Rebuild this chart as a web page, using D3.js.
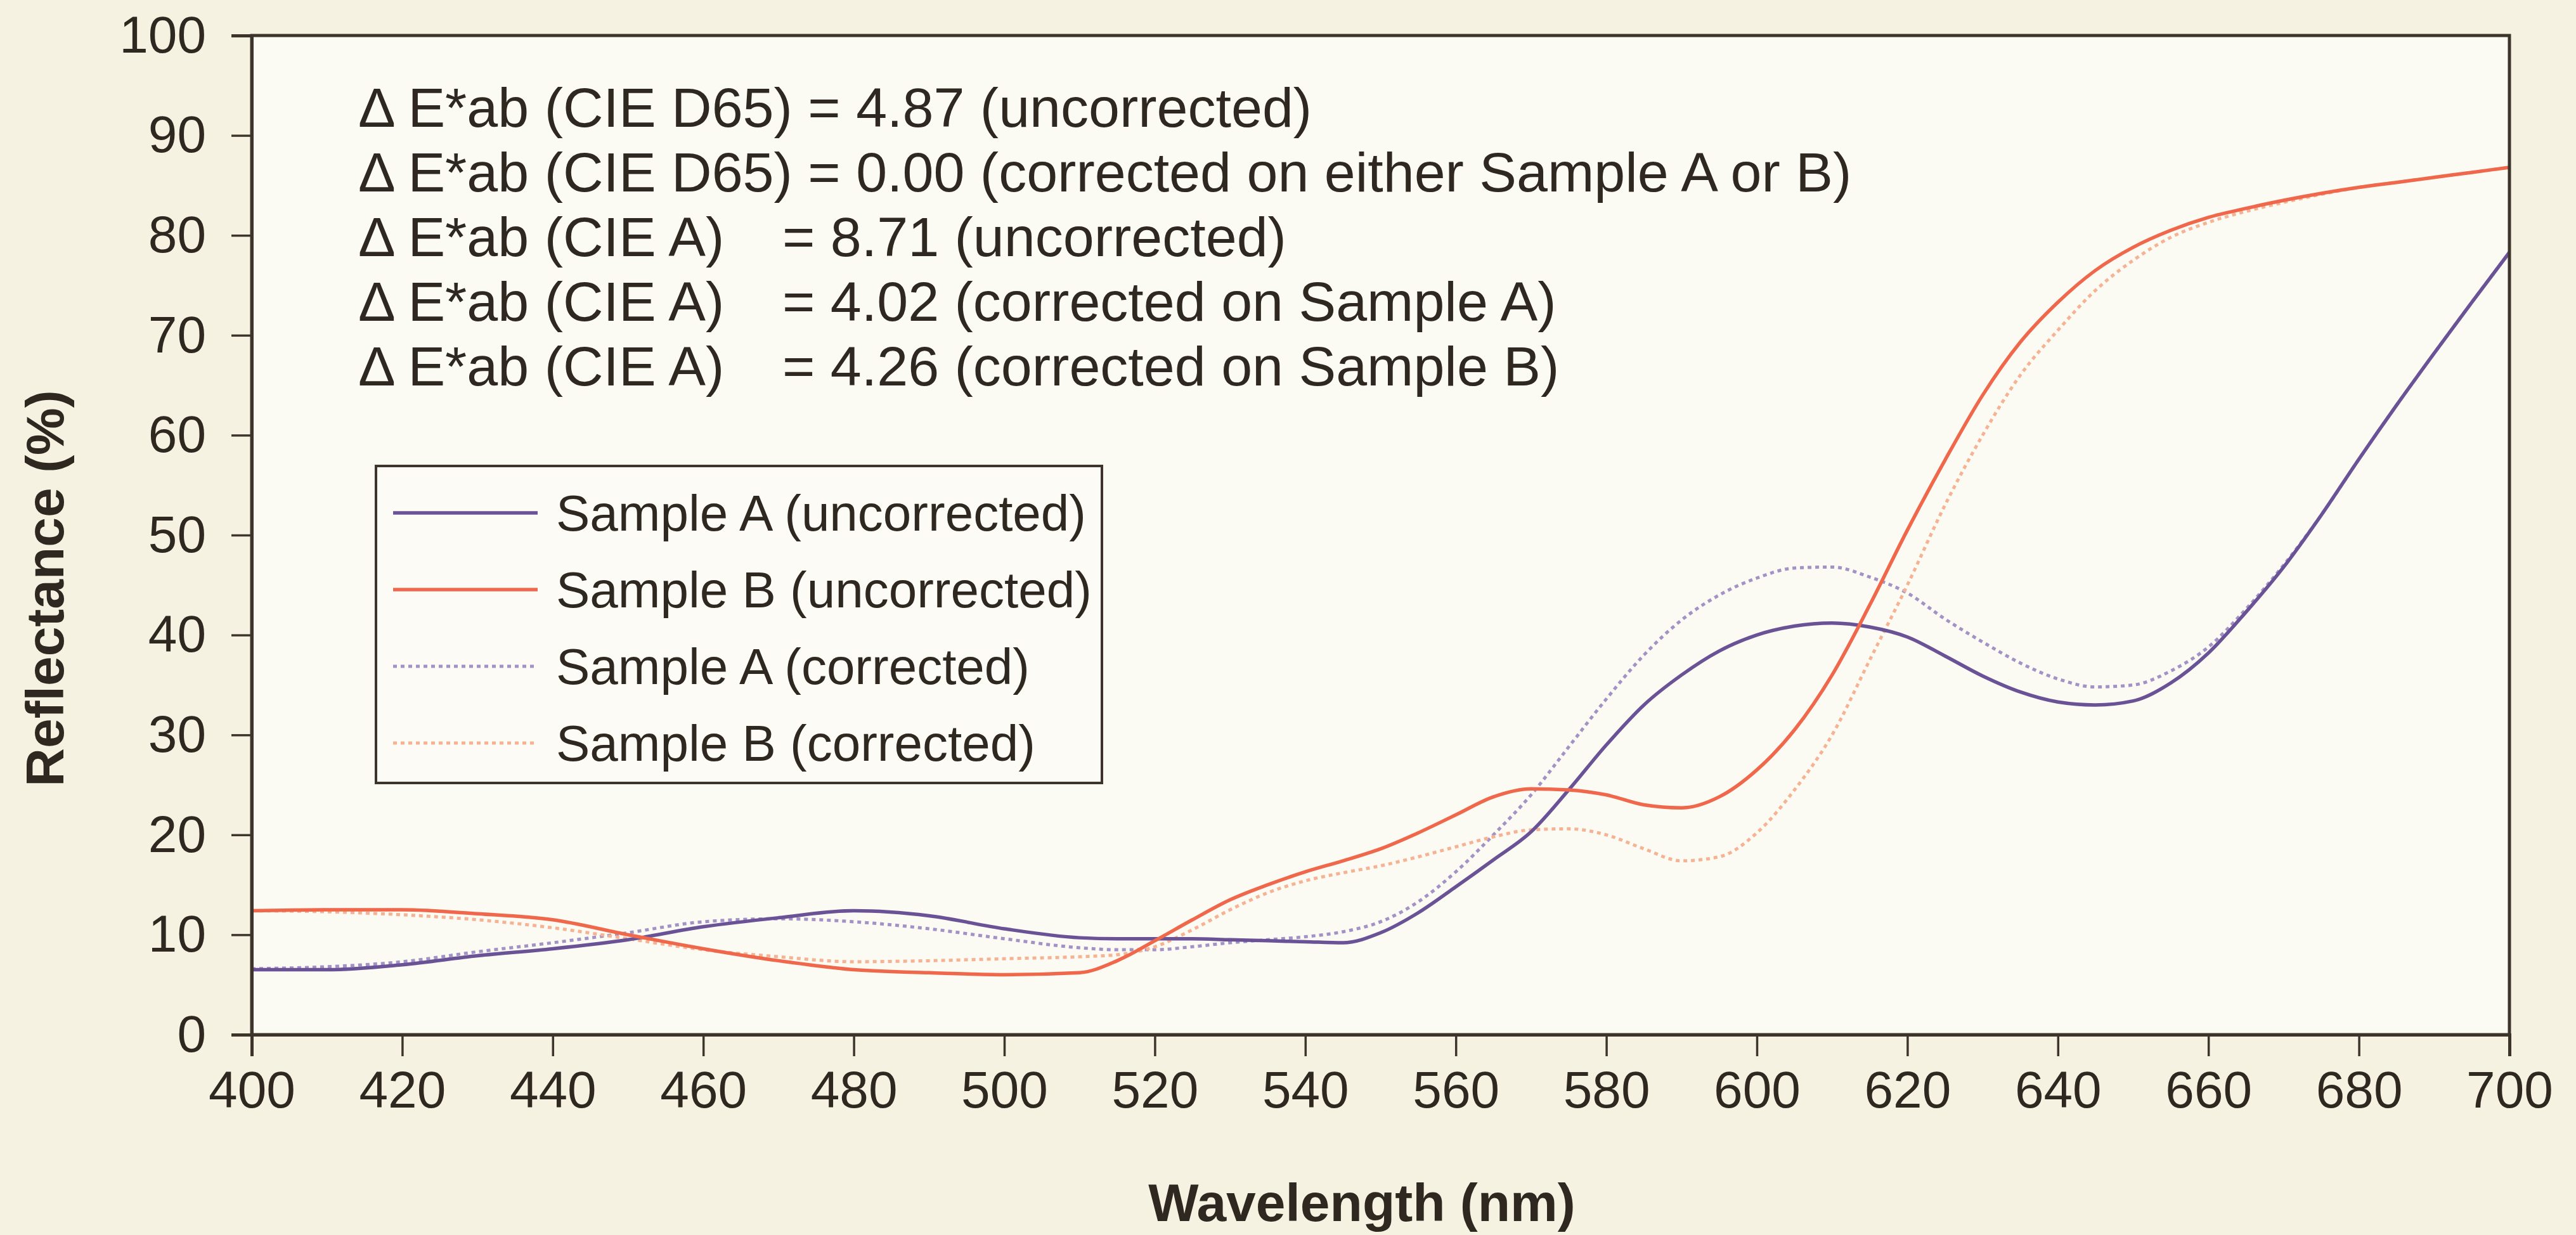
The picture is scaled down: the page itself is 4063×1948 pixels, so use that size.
<!DOCTYPE html>
<html>
<head>
<meta charset="utf-8">
<script src="https://cdn.jsdelivr.net/npm/d3@7"></script>
<style>
  html, body { margin: 0; padding: 0; background: #f5f2e1; }
  svg { display: block; }
  text { font-family: "Liberation Sans", Arial, sans-serif; fill: #2e2820; }
</style>
</head>
<body>
<script>
// Wavelength grid (nm)
const wavelengths = [400,410,420,430,440,450,460,470,480,490,500,510,515,520,525,530,535,540,545,550,
  555,560,565,570,575,580,585,590,595,600,605,610,615,620,625,630,635,640,645,650,
  655,660,665,670,675,680,685,690,695,700];

// Reflectance (%) per series
const sampleAUncorrected = [6.5,6.5,7.0,7.9,8.6,9.5,10.8,11.7,12.4,11.9,10.6,9.7,9.6,9.6,9.6,9.5,9.4,9.3,9.2,10.2,
  12.2,14.8,17.5,20.3,24.5,29.0,33.0,36.0,38.4,40.0,40.9,41.2,40.8,39.8,37.9,35.9,34.3,33.3,33.0,33.4,
  35.2,38.2,42.3,46.8,52.0,57.6,63.0,68.2,73.3,78.3];
const sampleBUncorrected = [12.4,12.5,12.5,12.1,11.5,10.0,8.6,7.4,6.5,6.2,6.0,6.2,7.4,9.4,11.5,13.5,15.0,16.3,17.4,18.6,
  20.2,22.0,23.8,24.6,24.5,24.0,23.0,22.7,23.8,26.5,30.5,36.0,43.0,50.5,57.5,64.0,69.3,73.3,76.5,78.8,
  80.5,81.8,82.7,83.5,84.2,84.8,85.3,85.8,86.3,86.8];
const sampleACorrected = [6.6,6.8,7.3,8.3,9.2,10.2,11.3,11.6,11.3,10.6,9.6,8.7,8.5,8.5,8.8,9.2,9.5,9.8,10.3,11.3,
  13.3,16.3,20.0,24.0,28.8,33.6,38.0,41.5,44.0,45.7,46.7,46.8,45.8,44.2,41.6,39.3,37.2,35.6,34.8,35.0,
  36.4,38.8,42.6,47.0,52.0,57.6,63.0,68.2,73.3,78.3];
const sampleBCorrected = [12.4,12.3,12.0,11.5,10.7,9.6,8.5,7.8,7.3,7.4,7.6,7.8,8.0,8.8,10.5,12.5,14.2,15.4,16.2,16.9,
  17.8,18.8,19.8,20.5,20.6,20.0,18.6,17.4,17.8,20.2,24.5,30.0,37.5,45.0,53.0,60.0,66.0,70.5,74.5,77.5,
  79.8,81.3,82.4,83.3,84.1,84.8,85.3,85.8,86.3,86.8];

const seriesNames = ["Sample A (uncorrected)", "Sample B (uncorrected)", "Sample A (corrected)", "Sample B (corrected)"];
const seriesValues = [sampleAUncorrected, sampleBUncorrected, sampleACorrected, sampleBCorrected];
const seriesColors = ["#6a5296", "#f0684c", "#a392c6", "#f6b394"];
const seriesDashed = [false, false, true, true];

const xTicks = [400,420,440,460,480,500,520,540,560,580,600,620,640,660,680,700];
const yTicks = [0,10,20,30,40,50,60,70,80,90,100];

// Colour-difference notes. D65 lines run on; illuminant A lines put the value at a tab stop.
const noteLabels = ["\u0394 E*ab (CIE D65) ", "\u0394 E*ab (CIE D65) ", "\u0394 E*ab (CIE A)", "\u0394 E*ab (CIE A)", "\u0394 E*ab (CIE A)"];
const noteValues = ["= 4.87 (uncorrected)", "= 0.00 (corrected on either Sample A or B)", "= 8.71 (uncorrected)",
  "= 4.02 (corrected on Sample A)", "= 4.26 (corrected on Sample B)"];
const noteTabbed = [false, false, true, true, true];

const W = 4063, H = 1948;
const plot = { left: 397, right: 3958, top: 56, bottom: 1632 };

const svg = d3.select("body").append("svg").attr("width", W).attr("height", H);
svg.append("rect").attr("width", W).attr("height", H).attr("fill", "#f5f2e1");

const x = d3.scaleLinear().domain([400, 700]).range([plot.left, plot.right]);
const y = d3.scaleLinear().domain([0, 100]).range([plot.bottom, plot.top]);

// plot area
svg.append("rect")
  .attr("x", plot.left).attr("y", plot.top)
  .attr("width", plot.right - plot.left).attr("height", plot.bottom - plot.top)
  .attr("fill", "#fbfaf3");

// curves
const line = d3.line().x(d => x(d[0])).y(d => y(d[1])).curve(d3.curveMonotoneX);
const drawOrder = [2, 3, 0, 1];
drawOrder.forEach(i => {
  svg.append("path")
    .datum(wavelengths.map((w, k) => [w, seriesValues[i][k]]))
    .attr("fill", "none")
    .attr("stroke", seriesColors[i])
    .attr("stroke-width", seriesDashed[i] ? 5 : 5.5)
    .attr("stroke-dasharray", seriesDashed[i] ? "6,6" : null)
    .attr("stroke-linejoin", "round")
    .attr("d", line);
});

// frame
svg.append("rect")
  .attr("x", plot.left).attr("y", plot.top)
  .attr("width", plot.right - plot.left).attr("height", plot.bottom - plot.top)
  .attr("fill", "none").attr("stroke", "#3d352b").attr("stroke-width", 5);

// axes
const xAxis = d3.axisBottom(x).tickValues(xTicks).tickSize(34).tickPadding(23).tickFormat(d3.format("d"));
const yAxis = d3.axisLeft(y).tickValues(yTicks).tickSize(32).tickPadding(40).tickFormat(d3.format("d"));

const gx = svg.append("g").attr("transform", `translate(0,${plot.bottom})`).call(xAxis);
const gy = svg.append("g").attr("transform", `translate(${plot.left},0)`).call(yAxis);
[gx, gy].forEach(g => {
  g.select(".domain").attr("stroke", "#3d352b").attr("stroke-width", 5);
  g.selectAll(".tick line").attr("stroke", "#3d352b").attr("stroke-width", 3.5);
  g.selectAll(".tick text").attr("font-size", 82).attr("fill", "#2e2820")
    .style("font-family", '"Liberation Sans", Arial, sans-serif');
});

// axis titles
svg.append("text")
  .attr("x", 2148).attr("y", 1926)
  .attr("text-anchor", "middle").attr("font-size", 84).attr("font-weight", "bold")
  .text("Wavelength (nm)");
svg.append("text")
  .attr("transform", "translate(100,928) rotate(-90)")
  .attr("text-anchor", "middle").attr("font-size", 84).attr("font-weight", "bold")
  .text("Reflectance (%)");

// colour-difference notes
const notes = svg.append("g");
noteLabels.forEach((lab, i) => {
  const by = 200 + i * 102;
  const t = notes.append("text").attr("x", 565).attr("y", by).attr("font-size", 88)
    .attr("xml:space", "preserve").style("white-space", "pre");
  t.append("tspan").text(lab);
  const v = t.append("tspan").text(noteValues[i]);
  if (noteTabbed[i]) v.attr("x", 1234);
});

// legend
const leg = svg.append("g");
leg.append("rect")
  .attr("x", 593).attr("y", 735).attr("width", 1145).attr("height", 500)
  .attr("fill", "#fcfbf5").attr("stroke", "#3d352b").attr("stroke-width", 4);
seriesNames.forEach((name, i) => {
  const ry = 809 + i * 121;
  leg.append("line")
    .attr("x1", 620).attr("x2", 848).attr("y1", ry).attr("y2", ry)
    .attr("stroke", seriesColors[i]).attr("stroke-width", seriesDashed[i] ? 5 : 5.5)
    .attr("stroke-dasharray", seriesDashed[i] ? "6,6" : null);
  leg.append("text").attr("x", 877).attr("y", ry + 28).attr("font-size", 80).text(name);
});
</script>
</body>
</html>
